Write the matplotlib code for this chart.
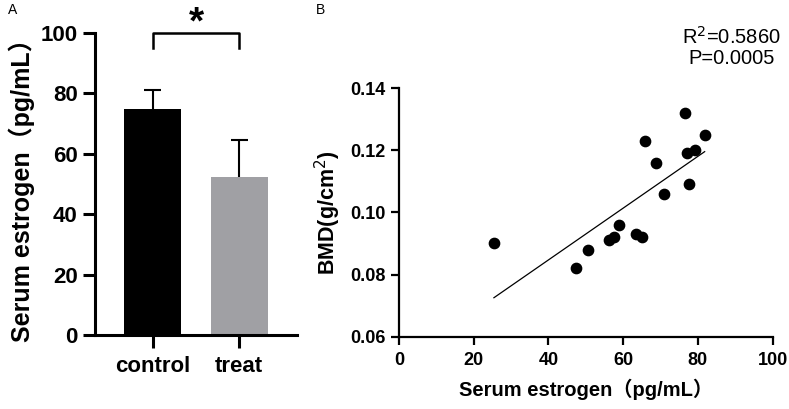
import numpy as np
import matplotlib.pyplot as plt

FONT = ['Liberation Sans', 'Noto Sans CJK SC', 'DejaVu Sans']
plt.rcParams['font.family'] = FONT

# panel A
groups = ['control', 'treat']
means = [75.0, 52.3]
sds = [6.0, 12.2]
bar_colors = ['#000000', '#a0a0a4']

# panel B
estrogen = [25.4, 47.5, 50.5, 56.3, 57.5, 59.0, 63.3, 64.9, 65.9, 68.9,
            71.0, 76.6, 77.0, 77.7, 79.3, 81.8]
bmd = [0.090, 0.082, 0.088, 0.091, 0.092, 0.096, 0.093, 0.092, 0.123, 0.116,
       0.106, 0.132, 0.119, 0.109, 0.120, 0.125]
r2_text = 'R$^2$=0.5860\nP=0.0005'

fig = plt.figure(figsize=(7.89, 4.09), dpi=100)

# ---- A ----
ax1 = fig.add_axes([0.1204, 0.181, 0.256, 0.738])
x = np.arange(len(groups))
ax1.bar(x, means, width=0.66, color=bar_colors, zorder=2)
# upper error bars only
tops = np.array(means) + np.array(sds)
ax1.vlines(x, means, tops, color='black', lw=1.5, zorder=1)
ax1.hlines(tops, x - 0.1, x + 0.1, color='black', lw=1.5, zorder=1)
ax1.set_xlim(-0.67, 1.67)
ax1.set_ylim(0, 100)
ax1.set_yticks([0, 20, 40, 60, 80, 100])
ax1.set_xticks(x)
ax1.set_xticklabels(groups)
for s in ['top', 'right']:
    ax1.spines[s].set_visible(False)
for s in ['left', 'bottom']:
    ax1.spines[s].set_linewidth(2.2)
ax1.tick_params(axis='both', width=2.2, length=9, labelsize=16)
ax1.tick_params(axis='x', pad=6)
for lab in ax1.get_xticklabels() + ax1.get_yticklabels():
    lab.set_fontweight('bold')
ax1.set_ylabel('Serum estrogen（pg/mL）', fontsize=18, fontweight='bold',
               family=FONT, labelpad=4)
ax1.plot([0, 0, 1, 1], [95, 100, 100, 95], color='black', lw=1.8,
         clip_on=False)
ax1.text(0.5, 100, '*', ha='center', va='baseline', fontsize=28,
         fontweight='bold')

# ---- B ----
ax2 = fig.add_axes([0.5057, 0.1768, 0.4736, 0.608])
ax2.scatter(estrogen, bmd, s=55, color='black', zorder=3, clip_on=False)
k, b = np.polyfit(estrogen, bmd, 1)
xf = np.array([min(estrogen), max(estrogen)])
ax2.plot(xf, k * xf + b, color='black', lw=0.9)
ax2.set_xlim(0, 100)
ax2.set_ylim(0.06, 0.14)
ax2.set_xticks([0, 20, 40, 60, 80, 100])
ax2.set_yticks([0.06, 0.08, 0.10, 0.12, 0.14])
ax2.set_yticklabels(['0.06', '0.08', '0.10', '0.12', '0.14'])
for s in ['top', 'right']:
    ax2.spines[s].set_visible(False)
for s in ['left', 'bottom']:
    ax2.spines[s].set_linewidth(1.6)
ax2.tick_params(axis='both', width=1.6, length=6, labelsize=13)
ax2.tick_params(axis='x', pad=5)
for lab in ax2.get_xticklabels() + ax2.get_yticklabels():
    lab.set_fontweight('bold')
ax2.set_xlabel('Serum estrogen（pg/mL）', fontsize=14.5, fontweight='bold',
               family=FONT, labelpad=7)
ax2.set_ylabel('BMD(g/cm$^2$)', fontsize=15.5, fontweight='bold', labelpad=5)
fig.text(0.927, 0.886, r2_text, ha='center', va='center', fontsize=14.5,
         linespacing=1.1)

fig.text(0.010, 0.975, 'A', ha='left', va='center', fontsize=10)
fig.text(0.400, 0.975, 'B', ha='left', va='center', fontsize=10)

fig.savefig('out.png', dpi=100)
